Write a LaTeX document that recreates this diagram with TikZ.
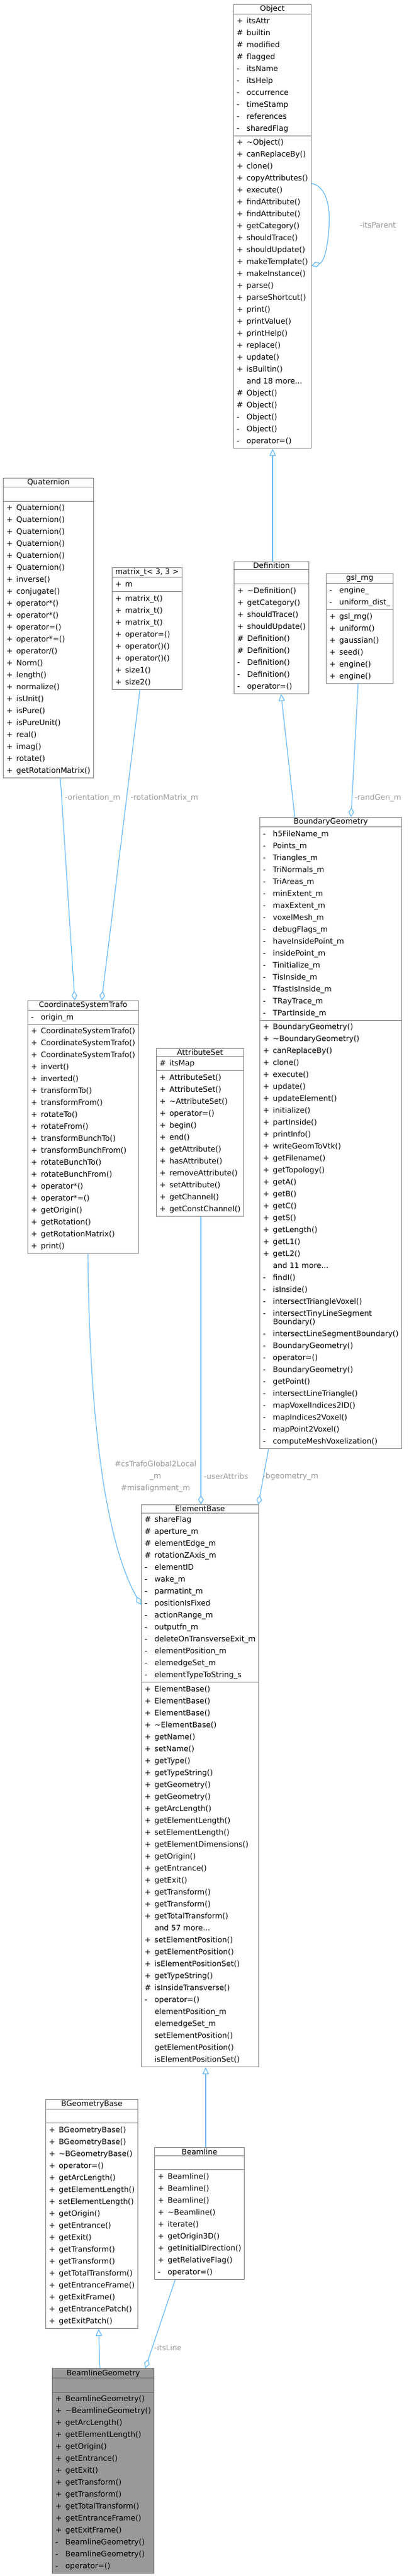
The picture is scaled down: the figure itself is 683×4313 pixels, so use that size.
\documentclass[tikz,border=0pt]{standalone}
\usepackage{fontspec}
\setmainfont{DejaVu Sans}
\usepackage{tikz}
\usepackage{xcolor}
\usetikzlibrary{shapes.multipart,arrows.meta,calc}
\definecolor{BorderGray}{HTML}{808080}
\definecolor{EdgeBlue}{HTML}{63B8FF}
\definecolor{LabelGray}{HTML}{9A9A9A}
\definecolor{FocusGray}{HTML}{999999}
\newcommand\classfont{\fontsize{9.5}{15}\selectfont}
\newenvironment{mlist}{\begin{tabular}{@{}p{12.5pt}@{}l@{}}}{\end{tabular}}
\tikzstyle{cls} = [rectangle split, rectangle split parts=3, draw=BorderGray, line width=0.75pt, anchor=north west, inner xsep=4pt, inner ysep=1pt, rectangle split part align={center,left,left}, font=\classfont, fill=white]
\tikzstyle{focus} = [cls, fill=FocusGray, draw=black!60]
\tikzstyle{inh} = [draw=EdgeBlue, line width=0.9pt, -{Triangle[open,length=9pt,width=8pt]}]
\tikzstyle{agg} = [draw=EdgeBlue, line width=0.9pt, -{Diamond[open,length=12pt,width=7pt]}]
\tikzstyle{lbl} = [text=LabelGray, font=\classfont, inner sep=0pt, align=center]
\tikzset{x=0.75pt, y=-0.75pt}

\begin{document}
\begin{tikzpicture}
\useasboundingbox (0,0) rectangle (683,4313);
\node[cls] (obj) at (390,7) {Object
\nodepart{two}\begin{mlist}+ & itsAttr\\ \# & builtin\\ \# & modified\\ \# & flagged\\ - & itsName\\ - & itsHelp\\ - & occurrence\\ - & timeStamp\\ - & references\\ - & sharedFlag\end{mlist}
\nodepart{three}\begin{mlist}+ & \textasciitilde Object()\\ + & canReplaceBy()\\ + & clone()\\ + & copyAttributes()\\ + & execute()\\ + & findAttribute()\\ + & findAttribute()\\ + & getCategory()\\ + & shouldTrace()\\ + & shouldUpdate()\\ + & makeTemplate()\\ + & makeInstance()\\ + & parse()\\ + & parseShortcut()\\ + & print()\\ + & printValue()\\ + & printHelp()\\ + & replace()\\ + & update()\\ + & isBuiltin()\\ & and 18 more...\\ \# & Object()\\ \# & Object()\\ - & Object()\\ - & Object()\\ - & operator=()\end{mlist}};
\node[cls] (quat) at (5,800) {Quaternion
\nodepart{two}\strut
\nodepart{three}\begin{mlist}+ & Quaternion()\\ + & Quaternion()\\ + & Quaternion()\\ + & Quaternion()\\ + & Quaternion()\\ + & Quaternion()\\ + & inverse()\\ + & conjugate()\\ + & operator*()\\ + & operator*()\\ + & operator=()\\ + & operator*=()\\ + & operator/()\\ + & Norm()\\ + & length()\\ + & normalize()\\ + & isUnit()\\ + & isPure()\\ + & isPureUnit()\\ + & real()\\ + & imag()\\ + & rotate()\\ + & getRotationMatrix()\end{mlist}};
\node[cls] (mat) at (187,950) {matrix\_t< 3, 3 >
\nodepart{two}\begin{mlist}+ & m\end{mlist}
\nodepart{three}\begin{mlist}+ & matrix\_t()\\ + & matrix\_t()\\ + & matrix\_t()\\ + & operator=()\\ + & operator()()\\ + & operator()()\\ + & size1()\\ + & size2()\end{mlist}};
\node[cls] (defn) at (391,940) {Definition
\nodepart{two}\strut
\nodepart{three}\begin{mlist}+ & \textasciitilde Definition()\\ + & getCategory()\\ + & shouldTrace()\\ + & shouldUpdate()\\ \# & Definition()\\ \# & Definition()\\ - & Definition()\\ - & Definition()\\ - & operator=()\end{mlist}};
\node[cls] (gsl) at (545,960) {gsl\_rng
\nodepart{two}\begin{mlist}- & engine\_\\ - & uniform\_dist\_\end{mlist}
\nodepart{three}\begin{mlist}+ & gsl\_rng()\\ + & uniform()\\ + & gaussian()\\ + & seed()\\ + & engine()\\ + & engine()\end{mlist}};
\node[cls] (bg) at (434,1368) {BoundaryGeometry
\nodepart{two}\begin{mlist}- & h5FileName\_m\\ - & Points\_m\\ - & Triangles\_m\\ - & TriNormals\_m\\ - & TriAreas\_m\\ - & minExtent\_m\\ - & maxExtent\_m\\ - & voxelMesh\_m\\ - & debugFlags\_m\\ - & haveInsidePoint\_m\\ - & insidePoint\_m\\ - & Tinitialize\_m\\ - & TisInside\_m\\ - & TfastIsInside\_m\\ - & TRayTrace\_m\\ - & TPartInside\_m\end{mlist}
\nodepart{three}\begin{mlist}+ & BoundaryGeometry()\\ + & \textasciitilde BoundaryGeometry()\\ + & canReplaceBy()\\ + & clone()\\ + & execute()\\ + & update()\\ + & updateElement()\\ + & initialize()\\ + & partInside()\\ + & printInfo()\\ + & writeGeomToVtk()\\ + & getFilename()\\ + & getTopology()\\ + & getA()\\ + & getB()\\ + & getC()\\ + & getS()\\ + & getLength()\\ + & getL1()\\ + & getL2()\\ & and 11 more...\\ - & findI()\\ - & isInside()\\ - & intersectTriangleVoxel()\\ - & intersectTinyLineSegment\\[-4.5pt] & Boundary()\\ - & intersectLineSegmentBoundary()\\ - & BoundaryGeometry()\\ - & operator=()\\ - & BoundaryGeometry()\\ - & getPoint()\\ - & intersectLineTriangle()\\ - & mapVoxelIndices2ID()\\ - & mapIndices2Voxel()\\ - & mapPoint2Voxel()\\ - & computeMeshVoxelization()\end{mlist}};
\node[cls] (cst) at (46,1675) {CoordinateSystemTrafo
\nodepart{two}\begin{mlist}- & origin\_m\end{mlist}
\nodepart{three}\begin{mlist}+ & CoordinateSystemTrafo()\\ + & CoordinateSystemTrafo()\\ + & CoordinateSystemTrafo()\\ + & invert()\\ + & inverted()\\ + & transformTo()\\ + & transformFrom()\\ + & rotateTo()\\ + & rotateFrom()\\ + & transformBunchTo()\\ + & transformBunchFrom()\\ + & rotateBunchTo()\\ + & rotateBunchFrom()\\ + & operator*()\\ + & operator*=()\\ + & getOrigin()\\ + & getRotation()\\ + & getRotationMatrix()\\ + & print()\end{mlist}};
\node[cls] (attr) at (261,1755) {AttributeSet
\nodepart{two}\begin{mlist}\# & itsMap\end{mlist}
\nodepart{three}\begin{mlist}+ & AttributeSet()\\ + & AttributeSet()\\ + & \textasciitilde AttributeSet()\\ + & operator=()\\ + & begin()\\ + & end()\\ + & getAttribute()\\ + & hasAttribute()\\ + & removeAttribute()\\ + & setAttribute()\\ + & getChannel()\\ + & getConstChannel()\end{mlist}};
\node[cls] (eb) at (236,2519) {ElementBase
\nodepart{two}\begin{mlist}\# & shareFlag\\ \# & aperture\_m\\ \# & elementEdge\_m\\ \# & rotationZAxis\_m\\ - & elementID\\ - & wake\_m\\ - & parmatint\_m\\ - & positionIsFixed\\ - & actionRange\_m\\ - & outputfn\_m\\ - & deleteOnTransverseExit\_m\\ - & elementPosition\_m\\ - & elemedgeSet\_m\\ - & elementTypeToString\_s\end{mlist}
\nodepart{three}\begin{mlist}+ & ElementBase()\\ + & ElementBase()\\ + & ElementBase()\\ + & \textasciitilde ElementBase()\\ + & getName()\\ + & setName()\\ + & getType()\\ + & getTypeString()\\ + & getGeometry()\\ + & getGeometry()\\ + & getArcLength()\\ + & getElementLength()\\ + & setElementLength()\\ + & getElementDimensions()\\ + & getOrigin()\\ + & getEntrance()\\ + & getExit()\\ + & getTransform()\\ + & getTransform()\\ + & getTotalTransform()\\ & and 57 more...\\ + & setElementPosition()\\ + & getElementPosition()\\ + & isElementPositionSet()\\ + & getTypeString()\\ \# & isInsideTransverse()\\ - & operator=()\\ * & elementPosition\_m\\ * & elemedgeSet\_m\\ * & setElementPosition()\\ * & getElementPosition()\\ * & isElementPositionSet()\end{mlist}};
\node[cls] (bgb) at (76,3515) {BGeometryBase
\nodepart{two}\strut
\nodepart{three}\begin{mlist}+ & BGeometryBase()\\ + & BGeometryBase()\\ + & \textasciitilde BGeometryBase()\\ + & operator=()\\ + & getArcLength()\\ + & getElementLength()\\ + & setElementLength()\\ + & getOrigin()\\ + & getEntrance()\\ + & getExit()\\ + & getTransform()\\ + & getTransform()\\ + & getTotalTransform()\\ + & getEntranceFrame()\\ + & getExitFrame()\\ + & getEntrancePatch()\\ + & getExitPatch()\end{mlist}};
\node[cls] (bl) at (258,3595) {Beamline
\nodepart{two}\strut
\nodepart{three}\begin{mlist}+ & Beamline()\\ + & Beamline()\\ + & Beamline()\\ + & \textasciitilde Beamline()\\ + & iterate()\\ + & getOrigin3D()\\ + & getInitialDirection()\\ + & getRelativeFlag()\\ - & operator=()\end{mlist}};
\node[focus] (blg) at (87,3965) {BeamlineGeometry
\nodepart{two}\strut
\nodepart{three}\begin{mlist}+ & BeamlineGeometry()\\ + & \textasciitilde BeamlineGeometry()\\ + & getArcLength()\\ + & getElementLength()\\ + & getOrigin()\\ + & getEntrance()\\ + & getExit()\\ + & getTransform()\\ + & getTransform()\\ + & getTotalTransform()\\ + & getEntranceFrame()\\ + & getExitFrame()\\ - & BeamlineGeometry()\\ - & BeamlineGeometry()\\ - & operator=()\end{mlist}};
% inheritance
\draw[inh] ($(defn.north west)+(65,0)$) -- ($(obj.south west)+(66,0)$);
\draw[inh] ($(bg.north west)+(59,0)$) -- ($(defn.south west)+(79,0)$);
\draw[inh] ($(bl.north west)+(86,0)$) -- ($(eb.south west)+(108,0)$);
\draw[inh] ($(blg.north west)+(80,0)$) -- ($(bgb.south west)+(89,0)$);
% members
\draw[agg] ($(obj.north east)+(0,300)$) .. controls ($(obj.north east)+(25,305)$) and ($(obj.north east)+(32,340)$) .. ($(obj.north east)+(29,375)$) .. controls ($(obj.north east)+(27,410)$) and ($(obj.north east)+(20,432)$) .. ($(obj.north east)+(0,438)$);
\draw[agg] ($(quat.south west)+(96,0)$) -- ($(cst.north west)+(79,0)$);
\draw[agg] ($(mat.south west)+(47,0)$) -- ($(cst.north west)+(124,0)$);
\draw[agg] ($(gsl.south west)+(54,0)$) -- ($(bg.north west)+(153,0)$);
\draw[agg] ($(cst.south west)+(101,0)$) .. controls ($(cst.south west)+(104,330)$) and ($(cst.south west)+(140,500)$) .. ($(eb.north west)+(0,168)$);
\draw[agg] ($(attr.south west)+(75,0)$) -- ($(eb.north west)+(100,0)$);
\draw[agg] ($(bg.south west)+(15,0)$) -- ($(eb.north west)+(196,0)$);
\draw[agg] ($(bl.south west)+(35,0)$) -- ($(blg.north west)+(156,0)$);
% edge labels
\node[lbl] (lparent) at (632,377) {-itsParent};
\node[lbl] (lorient) at (155,1336) {-orientation\_m};
\node[lbl] (lrotmat) at (275,1336) {-rotationMatrix\_m};
\node[lbl] (lrand) at (632,1336) {-randGen\_m};
\node[lbl] (ltrafo) at (260,2472) {\#csTrafoGlobal2Local\\\_m\\\#misalignment\_m};
\node[lbl] (luser) at (378,2472) {-userAttribs};
\node[lbl] (lgeom) at (486,2472) {-bgeometry\_m};
\node[lbl] (lline) at (281,3931) {-itsLine};
\end{tikzpicture}
\end{document}
